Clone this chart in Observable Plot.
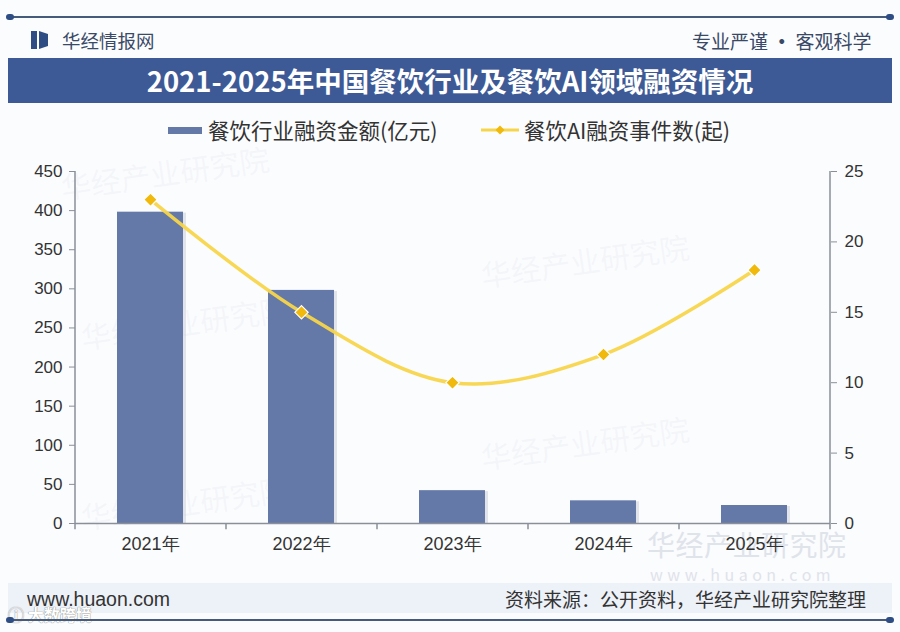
<!DOCTYPE html>
<html>
<head>
<meta charset="utf-8">
<script src="https://cdn.jsdelivr.net/npm/d3@7"></script>
<script src="https://cdn.jsdelivr.net/npm/@observablehq/plot@0.6"></script>
<style>
  html, body { margin: 0; padding: 0; }
  body { width: 900px; height: 632px; position: relative; overflow: hidden; background: #fbfcfe;
         font-family: "Noto Sans CJK SC", "Liberation Sans", sans-serif; color: #333; }
  .abs { position: absolute; white-space: nowrap; }
  .hline { position: absolute; left: 10px; width: 880px; height: 2px; background: #465b7c; }
  .hline::before, .hline::after { content: ""; position: absolute; top: -2px; width: 8px; height: 6px; border-radius: 3px; background: #2f4d85; }
  .hline::before { left: -4px; } .hline::after { right: -4px; }
  #title { left: 8px; top: 58px; width: 884px; height: 45px; background: #3d5a96; color: #fff;
           font-size: 27.5px; font-weight: 700; text-align: center; line-height: 45px; }
  .leg { font-size: 21.5px; color: #333; line-height: 28px; }
  #footer { left: 8px; top: 583px; width: 884px; height: 30px; background: #edf1f8; }
  .wm { color: rgba(190,198,212,0.12); font-size: 30px; transform: rotate(-8deg); }
  #chart { left: 0; top: 148px; }
</style>
</head>
<body>
<div class="hline" style="top:16px"></div>
<svg class="abs" style="left:31px;top:30px" width="18" height="20" viewBox="0 0 18 20">
  <rect x="0" y="1" width="6" height="18" fill="#2f4d85"/>
  <path d="M8 1 L17 4 L17 16 L8 19 Z" fill="#2f4d85"/>
</svg>
<div class="abs" style="left:62px;top:27px;font-size:18.5px;color:#3a4a66;">华经情报网</div>
<div class="abs" style="left:692px;top:27px;font-size:19px;color:#3a4a66;">专业严谨 <b>•</b> 客观科学</div>
<div id="title" class="abs">2021-2025年中国餐饮行业及餐饮AI领域融资情况</div>
<div class="abs" style="left:168px;top:127px;width:34px;height:7px;background:#6479a8;"></div>
<div class="abs leg" style="left:208px;top:116px;">餐饮行业融资金额(亿元)</div>
<svg class="abs" style="left:481px;top:124px;" width="38" height="12" viewBox="0 0 38 12">
  <line x1="0" y1="6" x2="38" y2="6" stroke="#f7d54a" stroke-width="3"/>
  <path d="M19 1.5 L23.5 6 L19 10.5 L14.5 6 Z" fill="#f0b90b"/>
</svg>
<div class="abs leg" style="left:524px;top:116px;">餐饮AI融资事件数(起)</div>
<div class="abs wm" style="left:60px;top:150px;">华经产业研究院</div>
<div class="abs wm" style="left:480px;top:238px;">华经产业研究院</div>
<div class="abs wm" style="left:80px;top:300px;">华经产业研究院</div>
<div class="abs wm" style="left:480px;top:420px;">华经产业研究院</div>
<div class="abs wm" style="left:80px;top:480px;">华经产业研究院</div>
<div id="footer" class="abs"></div>
<div class="abs" style="left:647px;top:524px;font-size:28px;color:#dfe3ea;letter-spacing:0.5px;">华经产业研究院</div>
<div class="abs" style="left:650px;top:562px;font-size:16px;color:#dfe3ea;letter-spacing:4.5px;">www.huaon.com</div>
<div class="abs" style="left:27px;top:588px;font-size:19.5px;color:#333;font-family:'Liberation Sans',sans-serif;">www.huaon.com</div>
<div class="abs" style="left:505px;top:585px;font-size:19px;color:#333;">资料来源：公开资料，华经产业研究院整理</div>
<div class="abs" style="left:8px;top:602px;font-size:16px;color:#fff;text-shadow:0 0 1px #888,0 0 1px #888;font-weight:700;">ⓘ 大数跨境</div>
<div class="hline" style="top:619px"></div>
<div id="chart" class="abs"></div>
<script>
const years = ["2021年", "2022年", "2023年", "2024年", "2025年"];
const funding = [398, 298, 42, 29, 23];
const events = [23, 15, 10, 12, 18];
const leftTicks = [0, 50, 100, 150, 200, 250, 300, 350, 400, 450];
const rightTicks = [0, 5, 10, 15, 20, 25];

const k = 450 / 25;
const data = years.map((y, i) => ({year: y, amt: funding[i], ev: events[i] * k}));
const half = (900 - 75 - 70) / years.length / 2;
const axisColor = "#8a8f99";

const chart = Plot.plot({
  width: 900,
  height: 420,
  marginTop: 23,
  marginBottom: 45,
  marginLeft: 75,
  marginRight: 70,
  style: {fontFamily: "'Liberation Sans', Arial, sans-serif", fontSize: "16px", color: "#333", background: "transparent", overflow: "visible"},
  x: {domain: years, paddingInner: 0.56, paddingOuter: 0.28, label: null},
  y: {domain: [0, 450], label: null},
  marks: [
    Plot.barY(data, {x: "year", y: "amt", fill: "#c7ccd6", fillOpacity: 0.5, dx: 3, dy: 1}),
    Plot.barY(data, {x: "year", y: "amt", fill: "#6479a8"}),
    Plot.ruleY([0], {stroke: axisColor, strokeWidth: 1.5}),
    Plot.ruleX([years[0]], {y1: 0, y2: 450, dx: -half, stroke: axisColor, strokeWidth: 1.5}),
    Plot.ruleX([years[years.length - 1]], {y1: 0, y2: 450, dx: half, stroke: axisColor, strokeWidth: 1.5}),
    Plot.ruleX(years, {y1: 0, y2: -8, dx: -half, stroke: axisColor, strokeWidth: 1.5}),
    Plot.ruleX([years[years.length - 1]], {y1: 0, y2: -8, dx: half, stroke: axisColor, strokeWidth: 1.5}),
    Plot.axisY({anchor: "left", ticks: leftTicks, tickSize: 6, tickPadding: 7, stroke: axisColor, fontSize: 17, label: null}),
    Plot.axisY({anchor: "right", ticks: rightTicks.map(v => v * k), tickFormat: d => d / k, tickSize: 6, tickPadding: 8, stroke: axisColor, fontSize: 17, label: null}),
    Plot.axisX({tickSize: 0, tickPadding: 14, fontSize: 18, label: null}),
    Plot.line(data, {x: "year", y: "ev", curve: "catmull-rom", stroke: "#f7d54a", strokeWidth: 3.5, strokeOpacity: 0.95}),
    Plot.dot(data, {x: "year", y: "ev", symbol: "diamond2", r: 6, fill: "#f0b90b", stroke: "#fff", strokeWidth: 1.2})
  ]
});
document.getElementById("chart").appendChild(chart);
</script>
</body>
</html>
